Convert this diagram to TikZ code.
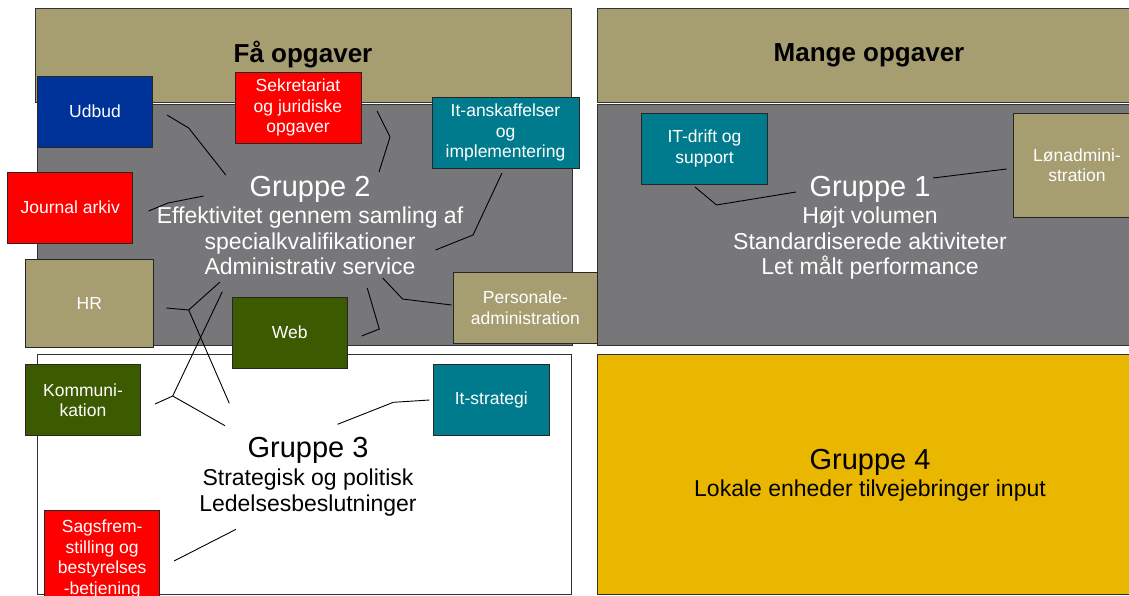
\documentclass[tikz,border=0pt]{standalone}
\usepackage{fontspec}
\setmainfont{Liberation Sans}
\usetikzlibrary{positioning}
\definecolor{tanfill}{HTML}{A69D70}
\definecolor{grayfill}{HTML}{77777A}
\definecolor{bluefill}{HTML}{003399}
\definecolor{tealfill}{HTML}{007B8E}
\definecolor{greenfill}{HTML}{3C5A00}
\definecolor{yellowfill}{HTML}{EAB700}
\tikzset{
  panel/.style={draw=black!80, line width=1pt, inner sep=0pt},
  box/.style={draw=black!85, line width=0.9pt, text=white, align=center, inner sep=0pt,
    font=\fontsize{17.5}{20.5}\selectfont},
  grp/.style={align=center, inner sep=0pt, anchor=north, font=\fontsize{23}{25.5}\selectfont},
  link/.style={draw=black, line width=0.9pt}
}
\newcommand{\grptitle}[1]{{\fontsize{29}{30}\selectfont #1}}

\begin{document}
\begin{tikzpicture}[x=1pt, y=-1pt]
\useasboundingbox (0,0) rectangle (1129,595);
\clip (0,0) rectangle (1129,595);

% panels
\node[panel, fill=tanfill, minimum width=536, minimum height=94,
  font=\fontsize{26}{28}\selectfont\bfseries] (fa) at (303,55) {Få opgaver};
\node[panel, fill=tanfill, minimum width=544, minimum height=94,
  font=\fontsize{26}{28}\selectfont\bfseries] (mange) at (869,55) {Mange opgaver};
\node[panel, fill=grayfill, minimum width=535, minimum height=241] (p2) at (304.5,224.5) {};
\node[panel, fill=grayfill, minimum width=544, minimum height=241] (p1) at (869,224.5) {};
\node[panel, fill=white, minimum width=534, minimum height=240] (p3) at (304,474) {};
\node[panel, fill=yellowfill, minimum width=544, minimum height=240] (p4) at (869,474) {};

% group texts
\node[grp, text=white] (g2) at (310,176.5) {\grptitle{Gruppe 2}\\[1.5pt]
  Effektivitet gennem samling af\\ specialkvalifikationer\\ Administrativ service};
\node[grp, text=white] (g1) at (870,176.5) {\grptitle{Gruppe 1}\\[1.5pt]
  Højt volumen\\ Standardiserede aktiviteter\\ Let målt performance};
\node[grp] (g3) at (308,437.5) {\grptitle{Gruppe 3}\\[2.5pt]
  Strategisk og politisk\\ Ledelsesbeslutninger};
\node[grp] (g4) at (870,449.5) {\grptitle{Gruppe 4}\\[1.5pt]
  Lokale enheder tilvejebringer input};

% connector points
\coordinate (U1) at (167,115);
\coordinate (U2) at (188.7,128);
\coordinate (U3) at (225.8,175);
\coordinate (S1) at (377,111);
\coordinate (S2) at (390,137);
\coordinate (S3) at (379,172);
\coordinate (A1) at (502,173);
\coordinate (A2) at (473,235);
\coordinate (A3) at (435.5,250);
\coordinate (J1) at (148.5,211);
\coordinate (J2) at (168,203);
\coordinate (J3) at (203.6,196);
\coordinate (H1) at (166.5,308);
\coordinate (H2) at (188.7,310);
\coordinate (H3) at (220,282);
\coordinate (H4) at (229.3,403.3);
\coordinate (K1) at (155,404);
\coordinate (K2) at (172.7,396);
\coordinate (K3) at (225,425.7);
\coordinate (K4) at (222.3,291.7);
\coordinate (W1) at (361.7,336);
\coordinate (W2) at (379.3,329);
\coordinate (W3) at (367.3,288.3);
\coordinate (P1) at (451.6,305);
\coordinate (P2) at (402.6,299);
\coordinate (P3) at (382.7,278);
\coordinate (T1) at (429.4,400);
\coordinate (T2) at (393.4,402.3);
\coordinate (T3) at (337.5,424.3);
\coordinate (B1) at (174,561);
\coordinate (B2) at (236,529.3);
\coordinate (D1) at (695,187);
\coordinate (D2) at (716.5,205);
\coordinate (D3) at (796,192);
\coordinate (L1) at (1006.6,169);
\coordinate (L2) at (933,178);

\draw[link] (U1) -- (U2) -- (U3);
\draw[link] (S1) -- (S2) -- (S3);
\draw[link] (A1) -- (A2) -- (A3);
\draw[link] (J1) -- (J2) -- (J3);
\draw[link] (H1) -- (H2) -- (H3);
\draw[link] (H2) -- (H4);
\draw[link] (K1) -- (K2) -- (K3);
\draw[link] (K2) -- (K4);
\draw[link] (W1) -- (W2) -- (W3);
\draw[link] (P1) -- (P2) -- (P3);
\draw[link] (T1) -- (T2) -- (T3);
\draw[link] (B1) -- (B2);
\draw[link] (D1) -- (D2) -- (D3);
\draw[link] (L1) -- (L2);

% task boxes
\node[box, fill=bluefill, minimum width=115.5, minimum height=71] (udbud) at (95,111.5) {Udbud};
\node[box, fill=red, minimum width=126, minimum height=71] (sekr) at (298,107.5)
  {Sekretariat\\ og juridiske\\ opgaver};
\node[box, fill=tealfill, minimum width=147, minimum height=71] (itansk) at (505.5,132.5)
  {It-anskaffelser\\ og\\ implementering};
\node[box, fill=red, minimum width=125, minimum height=71] (journal) at (70.3,207.5) {Journal arkiv};
\node[box, fill=tanfill, minimum width=127.4, minimum height=88] (hr) at (89.3,303.5) {HR};
\node[box, fill=greenfill, minimum width=115.5, minimum height=71] (web) at (289.8,332.5) {Web};
\node[box, fill=tanfill, minimum width=143.5, minimum height=71] (personale) at (525.3,307.5)
  {Personale-\\ administration};
\node[box, fill=tealfill, minimum width=126, minimum height=71] (itdrift) at (704.5,148.5)
  {IT-drift og\\ support};
\node[box, fill=tanfill, minimum width=127, minimum height=104] (loen) at (1077,165)
  {Lønadmini-\\ stration};
\node[box, fill=greenfill, minimum width=115.5, minimum height=71.5] (komm) at (83,400)
  {Kommuni-\\ kation};
\node[box, fill=tealfill, minimum width=115.5, minimum height=71.5] (itstrat) at (491.3,400)
  {It-strategi};
\node[box, fill=red, minimum width=115, minimum height=98] (sags) at (102.2,559)
  {Sagsfrem-\\ stilling og\\ bestyrelses\\ -betjening};
\end{tikzpicture}
\end{document}
